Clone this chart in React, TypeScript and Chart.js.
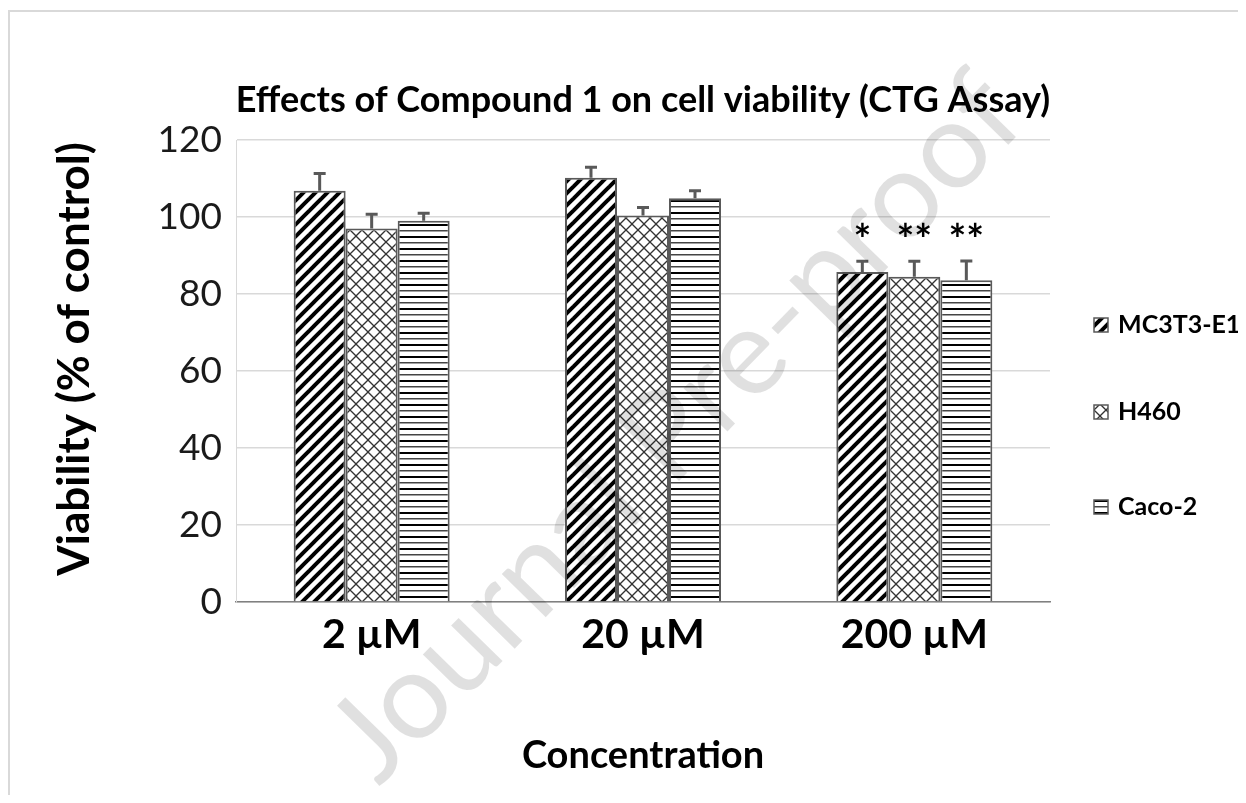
import React, { useEffect, useRef } from 'react';
import { Chart, registerables } from 'chart.js';

Chart.register(...registerables);

const categories = ['2 µM', '20 µM', '200 µM'];
const seriesNames = ['MC3T3-E1', 'H460', 'Caco-2'];
const mc3t3Values = [106.8, 110.2, 85.7];
const h460Values = [97.0, 100.4, 84.5];
const caco2Values = [99.0, 104.9, 83.6];
const mc3t3Errors = [4.5, 2.7, 2.8];
const h460Errors = [3.7, 2.1, 4.0];
const caco2Errors = [2.0, 1.9, 5.0];
const mc3t3Stars = ['', '', '*'];
const h460Stars = ['', '', '**'];
const caco2Stars = ['', '', '**'];
const yTicks = [0, 20, 40, 60, 80, 100, 120];
const chartTitle = 'Effects of Compound 1 on cell viability (CTG Assay)';
const yTitle = 'Viability (% of control)';
const xTitle = 'Concentration';
const watermark = 'Journal Pre-proof';

const FONT = 'Lato, "Open Sans", sans-serif';

function makePattern(kind: string): CanvasPattern | string {
  const c = document.createElement('canvas');
  const ctx = c.getContext('2d');
  if (!ctx) return '#fff';
  if (kind === 'diag') {
    c.width = 12; c.height = 12;
    ctx.fillStyle = '#fff';
    ctx.fillRect(0, 0, 12, 12);
    ctx.strokeStyle = '#000';
    ctx.lineWidth = 4;
    for (const o of [-12, 0, 12]) {
      ctx.beginPath();
      ctx.moveTo(o - 4, 16);
      ctx.lineTo(o + 16, -4);
      ctx.stroke();
    }
  } else if (kind === 'cross') {
    c.width = 12; c.height = 12;
    ctx.fillStyle = '#fff';
    ctx.fillRect(0, 0, 12, 12);
    ctx.strokeStyle = '#333';
    ctx.lineWidth = 1.3;
    for (const o of [-12, 0, 12]) {
      ctx.beginPath();
      ctx.moveTo(o - 4, 16);
      ctx.lineTo(o + 16, -4);
      ctx.stroke();
      ctx.beginPath();
      ctx.moveTo(o - 4, -4);
      ctx.lineTo(o + 16, 16);
      ctx.stroke();
    }
  } else {
    c.width = 4; c.height = 12;
    ctx.fillStyle = '#fff';
    ctx.fillRect(0, 0, 4, 12);
    ctx.fillStyle = '#000';
    ctx.fillRect(0, 0, 4, 2);
    ctx.fillStyle = '#444';
    ctx.fillRect(0, 6, 4, 1.5);
  }
  const p = ctx.createPattern(c, 'repeat');
  return p || '#fff';
}

export default function App() {
  const ref = useRef<HTMLCanvasElement>(null);

  useEffect(() => {
    if (!ref.current) return;
    const patterns = [makePattern('diag'), makePattern('cross'), makePattern('horiz')];
    const values = [mc3t3Values, h460Values, caco2Values];
    const errors = [mc3t3Errors, h460Errors, caco2Errors];
    const stars = [mc3t3Stars, h460Stars, caco2Stars];

    const decorPlugin = {
      id: 'decor',
      afterDatasetsDraw(chart: any) {
        const ctx = chart.ctx;
        const y = chart.scales.y;
        chart.data.datasets.forEach((ds: any, i: number) => {
          const meta = chart.getDatasetMeta(i);
          meta.data.forEach((bar: any, j: number) => {
            const v = ds.data[j];
            const e = errors[i][j];
            const yTop = y.getPixelForValue(v + e);
            const yBar = y.getPixelForValue(v);
            ctx.save();
            ctx.strokeStyle = '#595959';
            ctx.lineWidth = 3;
            ctx.beginPath();
            ctx.moveTo(bar.x, yBar);
            ctx.lineTo(bar.x, yTop);
            ctx.moveTo(bar.x - 6, yTop);
            ctx.lineTo(bar.x + 6, yTop);
            ctx.stroke();
            const s = stars[i][j];
            if (s) {
              ctx.fillStyle = '#000';
              ctx.font = `bold 42px ${FONT}`;
              ctx.textAlign = 'center';
              ctx.textBaseline = 'alphabetic';
              ctx.fillText(s, bar.x, yTop - 6);
            }
            ctx.restore();
          });
        });
      },
      afterDraw(chart: any) {
        const ctx = chart.ctx;
        const area = chart.chartArea;
        ctx.save();
        // frame
        ctx.strokeStyle = '#d9d9d9';
        ctx.lineWidth = 2;
        ctx.beginPath();
        ctx.moveTo(1, chart.height);
        ctx.lineTo(1, 3);
        ctx.lineTo(chart.width, 3);
        ctx.stroke();
        // title
        ctx.fillStyle = '#000';
        ctx.textAlign = 'center';
        ctx.textBaseline = 'middle';
        ctx.font = `bold 36px ${FONT}`;
        ctx.fillText(chartTitle, (area.left + area.right) / 2, 92);
        // x title
        ctx.font = `bold 38px ${FONT}`;
        ctx.fillText(xTitle, (area.left + area.right) / 2, 748);
        // y title
        ctx.save();
        ctx.translate(67, (area.top + area.bottom) / 2 - 12);
        ctx.rotate(-Math.PI / 2);
        ctx.font = `bold 44px ${FONT}`;
        ctx.fillText(yTitle, 0, 0);
        ctx.restore();
        // legend
        const rows = [317, 404, 499];
        chart.data.datasets.forEach((ds: any, i: number) => {
          const cy = rows[i];
          ctx.fillStyle = ds.backgroundColor;
          ctx.fillRect(1086, cy - 7, 14, 14);
          ctx.strokeStyle = '#595959';
          ctx.lineWidth = 1.5;
          ctx.strokeRect(1086, cy - 7, 14, 14);
          ctx.fillStyle = '#000';
          ctx.textAlign = 'left';
          ctx.textBaseline = 'middle';
          ctx.font = `bold 25px ${FONT}`;
          ctx.fillText(ds.label, 1110, cy);
        });
        // watermark
        ctx.save();
        ctx.translate(668, 420);
        ctx.rotate(-45.6 * Math.PI / 180);
        ctx.font = `120px ${FONT}`;
        const w = ctx.measureText(watermark).width;
        const size = 120 * 930 / w;
        ctx.font = `${size}px ${FONT}`;
        ctx.fillStyle = 'rgba(0,0,0,0.12)';
        ctx.textAlign = 'center';
        ctx.textBaseline = 'middle';
        ctx.fillText(watermark, 0, 0);
        ctx.restore();
        ctx.restore();
      },
    };

    const chart = new Chart(ref.current, {
      type: 'bar',
      data: {
        labels: categories,
        datasets: seriesNames.map((name, i) => ({
          label: name,
          data: values[i],
          backgroundColor: patterns[i] as any,
          borderColor: '#595959',
          borderWidth: 2,
          barPercentage: 1,
          categoryPercentage: 0.575,
        })),
      },
      options: {
        responsive: false,
        animation: false,
        devicePixelRatio: 1,
        layout: { padding: { top: 132, right: 188, bottom: 0, left: 0 } },
        plugins: {
          legend: { display: false },
          title: { display: false },
          tooltip: { enabled: false },
        },
        scales: {
          x: {
            grid: { display: false, drawTicks: false },
            border: { display: true, color: '#808080', width: 1.5 },
            ticks: {
              color: '#000',
              padding: 8,
              font: { family: FONT, size: 41, weight: 'bold' },
            },
            afterFit: (scale: any) => { scale.height = 193; },
          },
          y: {
            min: yTicks[0],
            max: yTicks[yTicks.length - 1],
            grid: { color: '#d9d9d9', lineWidth: 1.5, drawTicks: false },
            border: { display: true, color: '#d9d9d9', width: 1 },
            ticks: {
              stepSize: yTicks[1] - yTicks[0],
              color: '#1a1a1a',
              padding: 14,
              font: { family: FONT, size: 37 },
            },
            afterFit: (scale: any) => { scale.width = 228; },
          },
        },
      } as any,
      plugins: [decorPlugin],
    });

    let alive = true;
    if ((document as any).fonts) {
      Promise.all([
        (document as any).fonts.load(`36px Lato`),
        (document as any).fonts.load(`bold 36px Lato`),
      ]).then(() => { if (alive) chart.update(); }).catch(() => {});
    }
    return () => { alive = false; chart.destroy(); };
  }, []);

  return (
    <div style={{ width: 1230, height: 787 }}>
      <canvas ref={ref} width={1230} height={787} style={{ display: 'block' }} />
    </div>
  );
}
